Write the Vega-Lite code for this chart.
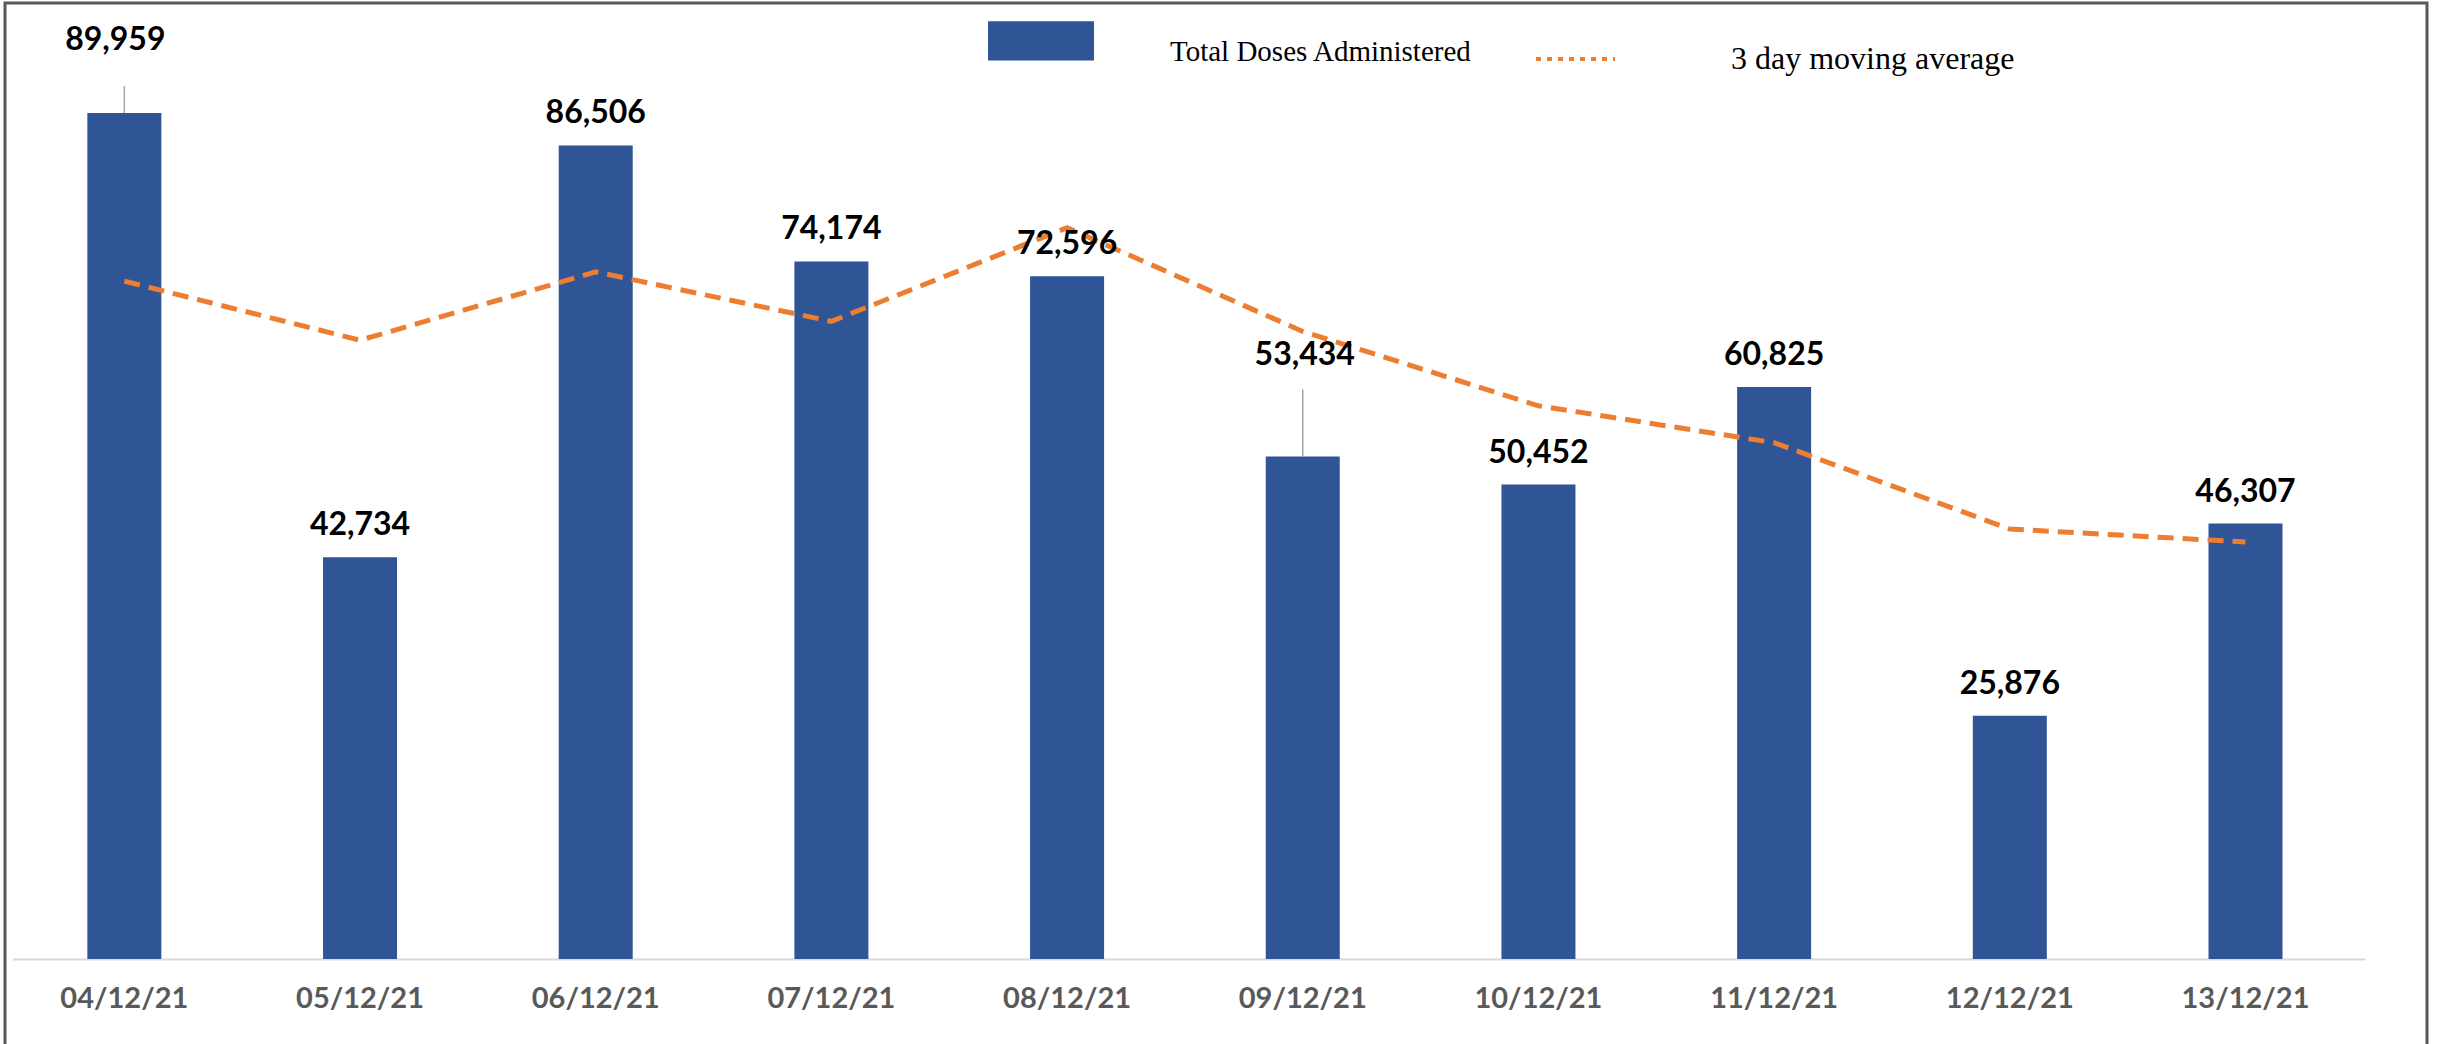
{
  "$schema": "https://vega.github.io/schema/vega-lite/v6.json",
  "width": 2422,
  "height": 1041,
  "autosize": {"type": "none"},
  "padding": {"left": 5, "top": 3, "right": 10, "bottom": 0},
  "background": "white",
  "config": {
    "view": {"stroke": "#595959", "strokeWidth": 3, "strokeDash": [3463, 2422, 3000]},
    "axis": {"grid": false}
  },
  "data": {
    "values": [
      {"date": "04/12/21", "doses": 89959, "avg": 72080},
      {"date": "05/12/21", "doses": 42734, "avg": 65800},
      {"date": "06/12/21", "doses": 86506, "avg": 73066},
      {"date": "07/12/21", "doses": 74174, "avg": 67805},
      {"date": "08/12/21", "doses": 72596, "avg": 77759},
      {"date": "09/12/21", "doses": 53434, "avg": 66735},
      {"date": "10/12/21", "doses": 50452, "avg": 58827},
      {"date": "11/12/21", "doses": 60825, "avg": 54904},
      {"date": "12/12/21", "doses": 25876, "avg": 45718},
      {"date": "13/12/21", "doses": 46307, "avg": 44336}
    ]
  },
  "encoding": {
    "x": {
      "field": "date",
      "type": "nominal",
      "sort": null,
      "scale": {"range": [7.4, 2360], "paddingInner": 0.686, "paddingOuter": 0.334, "align": 0.476},
      "axis": {
        "title": null,
        "orient": "bottom",
        "offset": -85,
        "ticks": false,
        "tickSize": 0,
        "labelAngle": 0,
        "labelPadding": 39,
        "labelBaseline": "middle",
        "labelFont": "Lato",
        "labelFontWeight": "bold",
        "labelFontSize": 29,
        "labelColor": "#595959",
        "domainColor": "#D9D9D9",
        "domainWidth": 2
      }
    }
  },
  "layer": [
    {
      "mark": {"type": "bar"},
      "encoding": {
        "y": {"field": "doses", "type": "quantitative", "scale": {"domain": [0, 100000], "range": [956, 15.6], "nice": false}, "axis": null},
        "fill": {
          "datum": "Total Doses Administered",
          "type": "nominal",
          "scale": {"range": ["#2F5597"]},
          "legend": {
            "orient": "none", "legendX": 983, "legendY": -4.5, "title": null, "padding": 0,
            "symbolType": "M-1,-0.57H1V0.17H-1Z", "symbolSize": 11236, "symbolStrokeWidth": 0,
            "labelOffset": 76, "labelFont": "Liberation Serif", "labelFontSize": 29,
            "labelColor": "black", "labelLimit": 0, "labelBaseline": "middle"
          }
        }
      }
    },
    {
      "mark": {"type": "line", "strokeWidth": 5, "strokeDash": [16, 9]},
      "encoding": {
        "y": {"field": "avg", "type": "quantitative", "scale": {"domain": [0, 100000], "range": [956, 15.6], "nice": false}, "axis": null},
        "stroke": {
          "datum": "3 day moving average",
          "type": "nominal",
          "scale": {"range": ["#ED7D31"]},
          "legend": {
            "orient": "none", "legendX": 1529, "legendY": 14.5, "title": null, "padding": 0,
            "symbolType": "stroke", "symbolSize": 6241, "symbolStrokeWidth": 4, "symbolDash": [5, 6],
            "labelOffset": 114, "labelFont": "Liberation Serif", "labelFontSize": 32,
            "labelColor": "black", "labelLimit": 0, "labelBaseline": "middle"
          }
        }
      }
    },
    {
      "transform": [{"filter": "datum.date == '04/12/21'"}],
      "mark": {"type": "rule", "color": "#A6A6A6", "strokeWidth": 1.5, "y2Offset": -27},
      "encoding": {
        "y": {"field": "doses", "type": "quantitative"},
        "y2": {"field": "doses"}
      }
    },
    {
      "transform": [{"filter": "datum.date == '09/12/21'"}],
      "mark": {"type": "rule", "color": "#A6A6A6", "strokeWidth": 1.5, "y2Offset": -67},
      "encoding": {
        "y": {"field": "doses", "type": "quantitative"},
        "y2": {"field": "doses"}
      }
    },
    {
      "transform": [{"filter": "datum.date != '04/12/21' && datum.date != '09/12/21'"}],
      "mark": {"type": "text", "dy": -32, "baseline": "middle", "font": "Lato", "fontWeight": "bold", "fontSize": 32, "color": "black"},
      "encoding": {
        "y": {"field": "doses", "type": "quantitative"},
        "text": {"field": "doses", "type": "quantitative", "format": ","}
      }
    },
    {
      "transform": [{"filter": "datum.date == '04/12/21'"}],
      "mark": {"type": "text", "dy": -73, "dx": -9, "baseline": "middle", "font": "Lato", "fontWeight": "bold", "fontSize": 32, "color": "black"},
      "encoding": {
        "y": {"field": "doses", "type": "quantitative"},
        "text": {"field": "doses", "type": "quantitative", "format": ","}
      }
    },
    {
      "transform": [{"filter": "datum.date == '09/12/21'"}],
      "mark": {"type": "text", "dy": -102, "dx": 2, "baseline": "middle", "font": "Lato", "fontWeight": "bold", "fontSize": 32, "color": "black"},
      "encoding": {
        "y": {"field": "doses", "type": "quantitative"},
        "text": {"field": "doses", "type": "quantitative", "format": ","}
      }
    }
  ]
}
